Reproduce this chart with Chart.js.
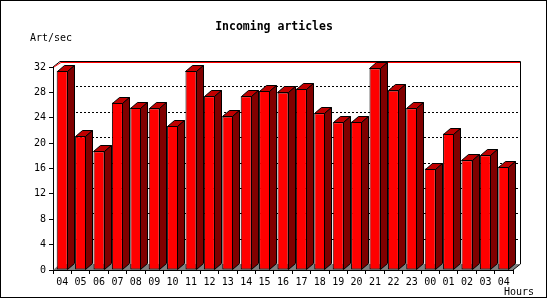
<!DOCTYPE html>
<html>
<head>
<meta charset="utf-8">
<script src="https://cdn.jsdelivr.net/npm/chart.js@4"></script>
<style>
  html, body { margin: 0; padding: 0; background: #fff; }
  canvas { display: block; }
</style>
</head>
<body>
<canvas id="chart" width="550" height="300"></canvas>
<script>
const hours = ['04','05','06','07','08','09','10','11','12','13','14','15','16','17','18','19','20','21','22','23','00','01','02','03','04'];
const artPerSec = [31.4, 21.1, 18.7, 26.4, 25.6, 25.5, 22.7, 31.4, 27.4, 24.2, 27.4, 28.2, 28.0, 28.6, 24.7, 23.3, 23.4, 31.8, 28.3, 25.5, 16.0, 21.5, 17.3, 18.1, 16.3];
const yTicks = [0, 4, 8, 12, 16, 20, 24, 28, 32];

const DX = 7, DY = 6;
const MONO = '"DejaVu Sans Mono", "Liberation Mono", monospace';

function poly(ctx, pts, fill) {
  ctx.beginPath();
  ctx.moveTo(pts[0][0], pts[0][1]);
  for (let i = 1; i < pts.length; i++) ctx.lineTo(pts[i][0], pts[i][1]);
  ctx.closePath();
  if (fill) { ctx.fillStyle = fill; ctx.fill(); }
  ctx.strokeStyle = '#000';
  ctx.stroke();
}

function line(ctx, x1, y1, x2, y2, color) {
  ctx.strokeStyle = color;
  ctx.beginPath();
  ctx.moveTo(x1, y1);
  ctx.lineTo(x2, y2);
  ctx.stroke();
}

// draws the box behind the bars and the top/side faces of each bar
const box3d = {
  id: 'box3d',
  beforeDatasetsDraw(chart) {
    const { ctx, chartArea: a, scales: { y } } = chart;
    const L = a.left, R = a.right, T = a.top, B = a.bottom;
    ctx.save();
    ctx.lineWidth = 1;

    // floor
    ctx.fillStyle = '#808080';
    ctx.beginPath();
    ctx.moveTo(L, B);
    ctx.lineTo(L + DX, B - DY);
    ctx.lineTo(R + DX, B - DY);
    ctx.lineTo(R, B);
    ctx.closePath();
    ctx.fill();

    // dotted grid on the back wall
    ctx.setLineDash([2, 2]);
    yTicks.slice(1, -1).forEach(v => {
      const py = Math.round(y.getPixelForValue(v) - DY) + 0.5;
      line(ctx, L + DX, py, R + DX, py, '#000');
    });
    ctx.setLineDash([]);

    // box edges
    const bt = Math.round(T - DY) + 0.5;
    line(ctx, L + DX, bt, R + DX + 0.5, bt, '#000');
    line(ctx, L + DX + 1, bt + 1, R + DX, bt + 1, '#ff0000');
    line(ctx, R + DX + 0.5, bt, R + DX + 0.5, B - DY, '#000');
    line(ctx, L, T, L + DX, bt, '#000');
    line(ctx, L + 1, T, L + DX + 1, bt + 1, '#ff0000');
    line(ctx, R, B, R + DX + 0.5, B - DY, '#000');
    ctx.restore();
  },
  afterDatasetsDraw(chart) {
    const { ctx } = chart;
    ctx.save();
    ctx.lineWidth = 1;
    chart.getDatasetMeta(0).data.forEach(bar => {
      const { x, y, base, width } = bar.getProps(['x', 'y', 'base', 'width'], true);
      const l = Math.round(x - width / 2) + 0.5;
      const r = Math.round(x + width / 2) - 0.5;
      const t = Math.round(y) + 0.5;
      const b = Math.round(base) - 0.5;
      poly(ctx, [[l, t], [l + DX, t - DY], [r + DX, t - DY], [r, t]], '#c00000');
      poly(ctx, [[r, t], [r + DX, t - DY], [r + DX, b - DY], [r, b]], '#800000');
    });
    ctx.restore();
  },
  afterDraw(chart) {
    const { ctx } = chart;
    ctx.save();
    ctx.fillStyle = '#000';
    ctx.textBaseline = 'middle';
    ctx.font = 'bold 11.5px ' + MONO;
    ctx.textAlign = 'center';
    ctx.fillText('Incoming articles', 274, 27);
    ctx.font = '10px ' + MONO;
    ctx.textAlign = 'left';
    ctx.fillText('Art/sec', 30, 38);
    ctx.fillText('Hours', 504, 292);
    ctx.lineWidth = 1;
    ctx.strokeStyle = '#000';
    ctx.strokeRect(0.5, 0.5, 546, 297);
    ctx.restore();
  }
};

new Chart(document.getElementById('chart'), {
  type: 'bar',
  data: {
    labels: hours,
    datasets: [{
      data: artPerSec,
      backgroundColor: '#ff0000',
      borderColor: '#000000',
      borderWidth: 1,
      borderSkipped: false,
      barPercentage: 0.6,
      categoryPercentage: 1.0
    }]
  },
  options: {
    responsive: false,
    animation: false,
    layout: { padding: { left: 0, top: 67, right: 37, bottom: 0 } },
    plugins: {
      legend: { display: false },
      tooltip: { enabled: false },
      title: { display: false }
    },
    scales: {
      x: {
        afterFit(scale) { scale.height = 30; },
        grid: { drawOnChartArea: false, tickLength: 4, color: '#000' },
        border: { color: '#000' },
        ticks: { color: '#000', font: { family: MONO, size: 10 }, padding: 2, maxRotation: 0, autoSkip: false }
      },
      y: {
        min: 0,
        max: 32,
        afterFit(scale) { scale.width = 53; },
        afterBuildTicks(scale) { scale.ticks = yTicks.map(v => ({ value: v })); },
        grid: { drawOnChartArea: false, tickLength: 4, color: '#000' },
        border: { color: '#000' },
        ticks: { color: '#000', font: { family: MONO, size: 10 }, padding: 3 }
      }
    }
  },
  plugins: [box3d]
});
</script>
</body>
</html>
